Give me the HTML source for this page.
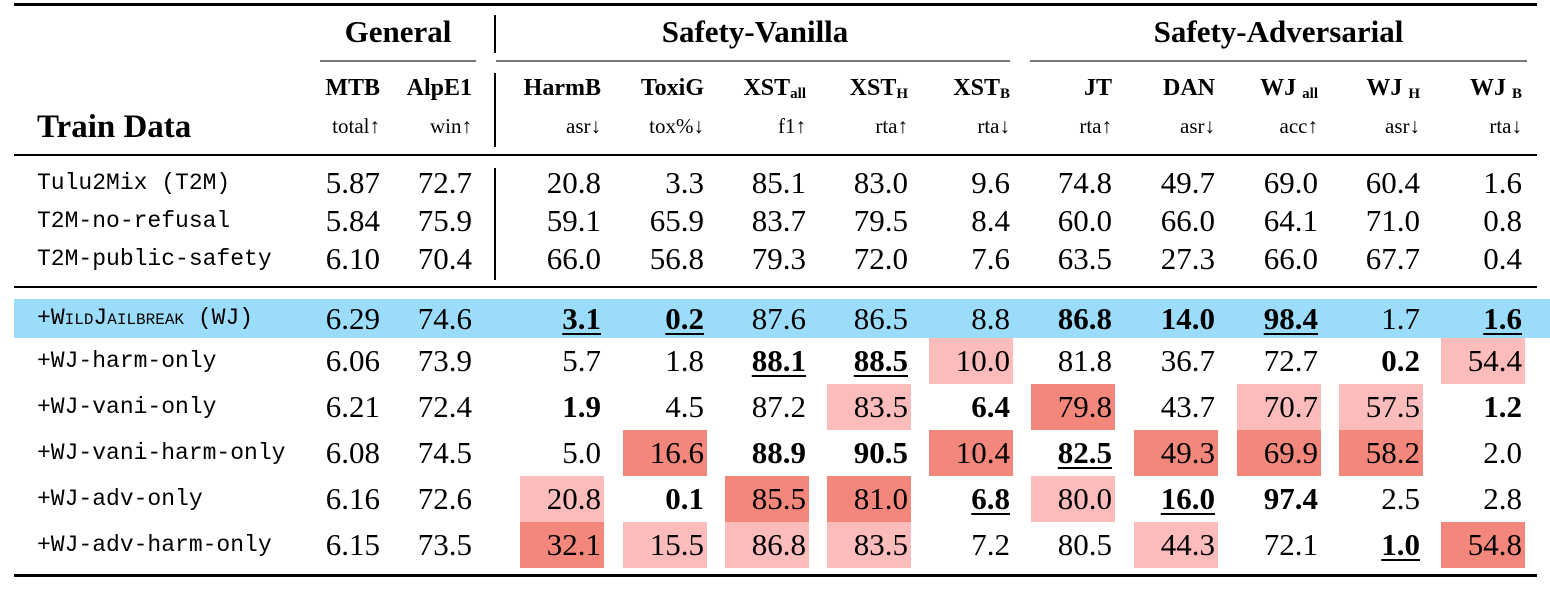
<!DOCTYPE html>
<html><head><meta charset="utf-8">
<style>
body{margin:0;background:#fff;}
#t{position:relative;width:1550px;height:590px;overflow:hidden;background:#fff;font-family:"Liberation Serif",serif;color:#000;}
.a{position:absolute;white-space:nowrap;}
.rule{position:absolute;background:#000;}
.num{position:absolute;font-size:31px;text-align:right;box-sizing:border-box;padding-right:3px;}
.lbl{position:absolute;font-family:"Liberation Mono",monospace;font-size:23px;left:37px;}
.hd{font-weight:bold;font-size:24px;text-align:right;}
.sub{font-size:21px;text-align:right;}
.grp{font-weight:bold;font-size:31px;text-align:center;}
.b{font-weight:bold;}
.u{text-decoration:underline;text-decoration-thickness:2px;text-underline-offset:4px;}
small{font-size:15px;vertical-align:-3px;}
</style></head>
<body>
<div id="t">
<div class="rule" style="left:14px;top:3px;width:1523px;height:3px;"></div>
<div class="a grp" style="left:320px;width:156px;top:14px;">General</div>
<div class="a grp" style="left:500px;width:510px;top:14px;">Safety-Vanilla</div>
<div class="a grp" style="left:1030px;width:497px;top:14px;">Safety-Adversarial</div>
<div class="rule" style="left:320px;top:60px;width:156px;height:1.5px;background:#777;"></div>
<div class="rule" style="left:496px;top:60px;width:514px;height:1.5px;background:#777;"></div>
<div class="rule" style="left:1030px;top:60px;width:497px;height:1.5px;background:#777;"></div>
<div class="rule" style="left:494px;top:15px;width:1.5px;height:38px;"></div>
<div class="rule" style="left:494px;top:73px;width:1.5px;height:74px;"></div>
<div class="rule" style="left:494px;top:168px;width:1.5px;height:112px;"></div>
<div class="a b" style="left:37px;top:109px;font-size:33px;">Train Data</div>
<div class="rule" style="left:14px;top:154px;width:1523px;height:2px;"></div>
<div class="rule" style="left:14px;top:286px;width:1523px;height:2px;"></div>
<div class="a" style="left:14px;top:299px;width:1536px;height:39px;background:#9cdcfb;"></div>
<div class="rule" style="left:14px;top:574px;width:1523px;height:2.5px;"></div>
</div>
<script>
const metrics = ["MTB","AlpE1","HarmB","ToxiG","XST<small>all</small>","XST<small>H</small>","XST<small>B</small>","JT","DAN","WJ <small>all</small>","WJ <small>H</small>","WJ <small>B</small>"];
const subLabels = ["total↑","win↑","asr↓","tox%↓","f1↑","rta↑","rta↓","rta↑","asr↓","acc↑","asr↓","rta↓"];
const colRight = [380,472,601,704,806,908,1010,1112,1215,1318,1420,1522];
const rowLabels = ["Tulu2Mix (T2M)","T2M-no-refusal","T2M-public-safety","+<span style=\"font-variant:small-caps\">WildJailbreak</span> (WJ)","+WJ-harm-only","+WJ-vani-only","+WJ-vani-harm-only","+WJ-adv-only","+WJ-adv-harm-only"];
const values = [
["5.87","72.7","20.8","3.3","85.1","83.0","9.6","74.8","49.7","69.0","60.4","1.6"],
["5.84","75.9","59.1","65.9","83.7","79.5","8.4","60.0","66.0","64.1","71.0","0.8"],
["6.10","70.4","66.0","56.8","79.3","72.0","7.6","63.5","27.3","66.0","67.7","0.4"],
["6.29","74.6","3.1","0.2","87.6","86.5","8.8","86.8","14.0","98.4","1.7","1.6"],
["6.06","73.9","5.7","1.8","88.1","88.5","10.0","81.8","36.7","72.7","0.2","54.4"],
["6.21","72.4","1.9","4.5","87.2","83.5","6.4","79.8","43.7","70.7","57.5","1.2"],
["6.08","74.5","5.0","16.6","88.9","90.5","10.4","82.5","49.3","69.9","58.2","2.0"],
["6.16","72.6","20.8","0.1","85.5","81.0","6.8","80.0","16.0","97.4","2.5","2.8"],
["6.15","73.5","32.1","15.5","86.8","83.5","7.2","80.5","44.3","72.1","1.0","54.8"]];
// style codes: b=bold, u=bold+underline, L=light red, D=dark red, -=plain
const styles = [
"------------","------------","------------",
"--uu---bbu-u",
"----uuL---bL",
"--b--LbD-LLb",
"---DbbDuDDD-",
"--LbDDuLub--",
"--DLLL--L-uD"];
const rowTop = [164,202,240,299,338,384,430,476,522];
const rowH = [38,38,38,39,46,46,46,46,46];
const root = document.getElementById('t');
metrics.forEach((m,i)=>{
  const h=document.createElement('div');
  
  
  h.className='a hd';h.style.left=(colRight[i]-100)+'px';h.style.width='100px';h.style.top='75px';h.innerHTML=m;root.appendChild(h);
  const s=document.createElement('div');
  
  
  s.className='a sub';s.style.left=(colRight[i]-100)+'px';s.style.width='100px';s.style.top='114px';s.textContent=subLabels[i];root.appendChild(s);
});
rowLabels.forEach((l,r)=>{
  const d=document.createElement('div');
  
  
  d.className='lbl';d.style.top=rowTop[r]+'px';d.style.lineHeight=rowH[r]+'px';d.innerHTML=l;root.appendChild(d);
  values[r].forEach((v,c)=>{
    const st=(styles[r]||'')[c]||'-';
    const cell=document.createElement('div');
    
    
    cell.className='num';
    cell.style.left=(colRight[c]-81)+'px';cell.style.width='84px';
    cell.style.top=rowTop[r]+'px';cell.style.height=rowH[r]+'px';cell.style.lineHeight=rowH[r]+'px';
    if(st==='L')cell.style.background='#fdbcbc';
    if(st==='D')cell.style.background='#f4877b';
    const sp=document.createElement('span');
    if(st==='b'||st==='u')sp.className='b';
    if(st==='u')sp.className='b u';
    sp.textContent=v;cell.appendChild(sp);root.appendChild(cell);
  });
});
</script>
</body></html>
